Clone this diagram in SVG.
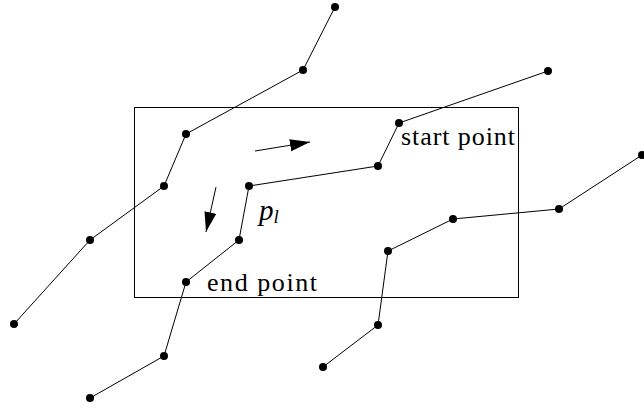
<svg xmlns="http://www.w3.org/2000/svg" width="644" height="412" viewBox="0 0 644 412">
<style>
.ln{fill:none;stroke:#000;stroke-width:1}
.dot{fill:#000}
</style>
<defs>
<marker id="ah" markerUnits="userSpaceOnUse" markerWidth="22" markerHeight="14" refX="20" refY="6" orient="auto">
<path d="M0,0 L20,6 L0,12 z" fill="#000"/>
</marker>
</defs>
<rect id="window" x="134.5" y="107.5" width="384" height="190" fill="none" stroke="#000" stroke-width="1"/>
<g id="connectors">
<polyline class="ln" points="335,7 303,70 186,134 164,186 90,240 14,324"/>
<polyline class="ln" points="548,71 399,123 378,166 249,186 239,240 186,282 164,356 90,398"/>
<polyline class="ln" points="642,155 559,209 453,219 388,251 378,325 323,367"/>
<line class="ln" x1="255" y1="151" x2="310" y2="142" marker-end="url(#ah)"/>
<line class="ln" x1="216" y1="187" x2="206" y2="232" marker-end="url(#ah)"/>
</g>
<g id="line1">
<circle class="dot" cx="335" cy="7" r="4"/>
<circle class="dot" cx="303" cy="70" r="4"/>
<circle class="dot" cx="186" cy="134" r="4"/>
<circle class="dot" cx="164" cy="186" r="4"/>
<circle class="dot" cx="90" cy="240" r="4"/>
<circle class="dot" cx="14" cy="324" r="4"/>
</g>
<g id="line2">
<circle class="dot" cx="548" cy="71" r="4"/>
<circle class="dot" cx="399" cy="123" r="4"/>
<circle class="dot" cx="378" cy="166" r="4"/>
<circle class="dot" cx="249" cy="186" r="4"/>
<circle class="dot" cx="239" cy="240" r="4"/>
<circle class="dot" cx="186" cy="282" r="4"/>
<circle class="dot" cx="164" cy="356" r="4"/>
<circle class="dot" cx="90" cy="398" r="4"/>
</g>
<g id="line3">
<circle class="dot" cx="642" cy="155" r="4"/>
<circle class="dot" cx="559" cy="209" r="4"/>
<circle class="dot" cx="453" cy="219" r="4"/>
<circle class="dot" cx="388" cy="251" r="4"/>
<circle class="dot" cx="378" cy="325" r="4"/>
<circle class="dot" cx="323" cy="367" r="4"/>
</g>
<g id="labels">
<text x="401" y="145" font-family="Liberation Serif" font-size="26" textLength="114" lengthAdjust="spacing">start point</text>
<text x="207" y="291" font-family="Liberation Serif" font-size="26" textLength="110" lengthAdjust="spacing">end point</text>
<text x="259" y="220" font-family="Liberation Serif" font-size="29" font-style="italic">p<tspan font-size="19" dy="3">l</tspan></text>
</g>
</svg>
